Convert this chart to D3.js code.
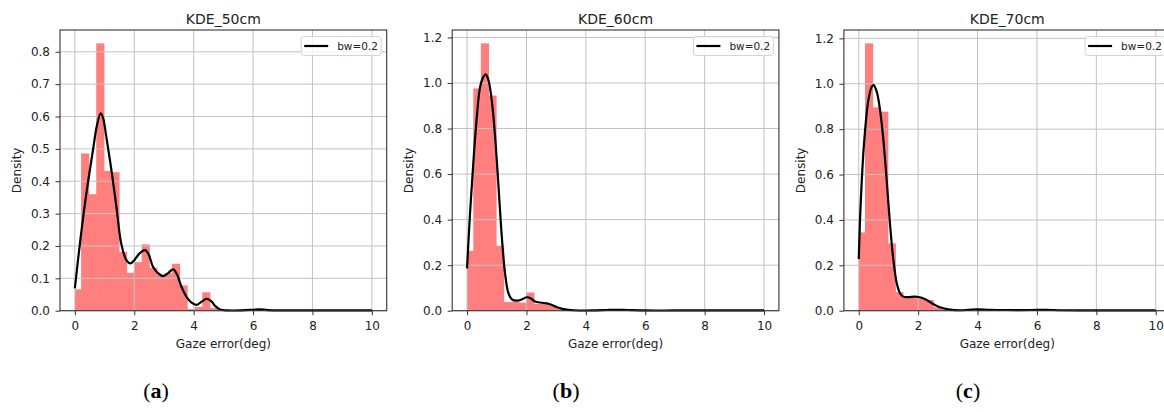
<!DOCTYPE html>
<html>
<head>
<meta charset="utf-8">
<script src="https://cdn.jsdelivr.net/npm/d3@7"></script>
<style>
  body { margin: 0; background: #fff; }
  svg { display: block; }
  text { font-family: "DejaVu Sans", "Noto Sans", sans-serif; }
</style>
</head>
<body>
<svg id="chart" width="1164" height="412"></svg>
<script>
// ---- data ----
const titles = ["KDE_50cm", "KDE_60cm", "KDE_70cm"];
const tags = ["a", "b", "c"];
const legendLabel = "bw=0.2";
const xLabel = "Gaze error(deg)";
const yLabel = "Density";

const xTicks = [0, 2, 4, 6, 8, 10];
const yTicks50 = [0, 0.1, 0.2, 0.3, 0.4, 0.5, 0.6, 0.7, 0.8];
const yTicks60 = [0, 0.2, 0.4, 0.6, 0.8, 1.0, 1.2];
const yTicks70 = [0, 0.2, 0.4, 0.6, 0.8, 1.0, 1.2];

// histogram bins (shared): first edge, bin width
const binStart = -0.045;
const binWidth = 0.255;

// histogram densities per bin
const hist50 = [0.066, 0.486, 0.36, 0.826, 0.432, 0.428, 0.182, 0.117, 0.15, 0.205,
                0.133, 0.11, 0.115, 0.145, 0.078, 0.005, 0.012, 0.057, 0.008, 0,
                0, 0, 0, 0.004, 0.004];
const hist60 = [0.263, 0.976, 1.174, 0.945, 0.285, 0.038, 0.04, 0.036, 0.08, 0.03,
                0.03, 0.022, 0.01, 0.004, 0.002, 0, 0, 0, 0, 0.004, 0.004];
const hist70 = [0.345, 1.178, 0.896, 0.877, 0.297, 0.082, 0.059, 0.058, 0.055, 0.047,
                0.015, 0.008, 0.004, 0.002, 0, 0.006, 0.006, 0, 0, 0,
                0, 0, 0, 0.004, 0.004];

// kernel density estimates, [x, density]
const kde50 = [[0,0.069],[0.2,0.23],[0.4,0.37],[0.6,0.49],[0.75,0.575],
  [0.87,0.61],[0.95,0.596],[1.06,0.537],[1.23,0.435],[1.4,0.321],[1.56,0.208],[1.73,0.157],
  [1.87,0.146],[2.01,0.157],[2.18,0.177],[2.36,0.187],[2.48,0.175],[2.63,0.136],[2.8,0.116],
  [2.97,0.107],[3.14,0.116],[3.31,0.128],[3.43,0.114],[3.59,0.074],[3.76,0.043],[3.93,0.025],
  [4.1,0.018],[4.27,0.028],[4.44,0.037],[4.61,0.028],[4.72,0.015],[4.89,0.004],[5.12,0.001],
  [5.6,0.001],[6.0,0.003],[6.2,0.004],[6.5,0.002],[7,0.001],[8,0.001],[9,0.001],[10,0.001]];
const kde60 = [[0,0.186],[0.1,0.428],[0.21,0.647],[0.33,0.852],[0.44,0.983],[0.55,1.027],
  [0.63,1.038],[0.72,1.013],[0.83,0.925],[0.945,0.764],[1.06,0.544],[1.17,0.325],[1.28,0.164],
  [1.395,0.076],[1.51,0.05],[1.68,0.044],[1.85,0.05],[2.01,0.059],[2.15,0.054],[2.29,0.04],
  [2.52,0.035],[2.69,0.032],[2.86,0.025],[3.03,0.015],[3.25,0.007],[3.6,0.002],[4.2,0.001],
  [4.7,0.003],[5.0,0.004],[5.4,0.003],[6,0.001],[7,0.001],[8,0.001],[9,0.001],[10,0.001]];
const kde70 = [[0,0.228],[0.066,0.473],[0.178,0.737],[0.324,0.928],[0.437,0.987],[0.5,0.994],
  [0.605,0.965],[0.717,0.884],[0.83,0.752],[0.94,0.576],[1.05,0.385],[1.166,0.223],[1.28,0.121],
  [1.39,0.077],[1.5,0.062],[1.67,0.06],[1.9,0.062],[2.12,0.057],[2.29,0.047],[2.46,0.033],
  [2.63,0.021],[2.85,0.011],[3.07,0.005],[3.4,0.002],[3.7,0.004],[4.0,0.006],[4.4,0.004],
  [5,0.003],[5.8,0.003],[6.3,0.004],[6.8,0.002],[7.5,0.001],[8.5,0.001],[10,0.001]];

// ---- layout ----
const svg = d3.select("#chart");
const plotTop = 30, plotBottom = 310.7, plotW = 326.7;
const lefts = [60, 452.2, 843.9];
const tagCenters = [156, 566, 968];

const panels = [
  { title: titles[0], hist: hist50, kde: kde50, yTicks: yTicks50 },
  { title: titles[1], hist: hist60, kde: kde60, yTicks: yTicks60 },
  { title: titles[2], hist: hist70, kde: kde70, yTicks: yTicks70 }
];

panels.forEach((p, i) => {
  const x0 = lefts[i], x1 = x0 + plotW;
  const x = d3.scaleLinear().domain([-0.5, 10.5]).range([x0, x1]);
  const y = d3.scaleLinear().domain([0, d3.max(p.hist) * 1.05]).range([plotBottom, plotTop]);
  const g = svg.append("g");

  // histogram bars (slightly widened so neighbouring bars meet without seams)
  g.append("g").selectAll("rect")
    .data(p.hist.map((v, k) => ({ v, lo: Math.max(0, binStart + k * binWidth), hi: binStart + (k + 1) * binWidth })))
    .join("rect")
    .attr("x", d => x(d.lo))
    .attr("width", d => x(d.hi) - x(d.lo) + 0.6)
    .attr("y", d => y(d.v))
    .attr("height", d => y(0) - y(d.v))
    .attr("fill", "#ff7f7f");

  // grid
  const grid = g.append("g").attr("stroke", "#c2c2c2").attr("stroke-width", 1);
  grid.selectAll(".gx").data(xTicks).join("line")
    .attr("x1", d => x(d)).attr("x2", d => x(d))
    .attr("y1", plotTop).attr("y2", plotBottom);
  grid.selectAll(".gy").data(p.yTicks).join("line")
    .attr("x1", x0).attr("x2", x1)
    .attr("y1", d => y(d)).attr("y2", d => y(d));

  // KDE curve
  const line = d3.line().x(d => x(d[0])).y(d => y(d[1])).curve(d3.curveCatmullRom.alpha(0.5));
  g.append("path").datum(p.kde)
    .attr("d", line)
    .attr("fill", "none")
    .attr("stroke", "#000")
    .attr("stroke-width", 2.2)
    .attr("stroke-linejoin", "round");

  // frame
  g.append("rect")
    .attr("x", x0).attr("y", plotTop)
    .attr("width", plotW).attr("height", plotBottom - plotTop)
    .attr("fill", "none").attr("stroke", "#333").attr("stroke-width", 1.1);

  // axes
  const ax = g.append("g").attr("transform", `translate(0,${plotBottom})`)
    .call(d3.axisBottom(x).tickValues(xTicks).tickFormat(d3.format("d")).tickSize(4.5).tickPadding(6.5));
  const ay = g.append("g").attr("transform", `translate(${x0},0)`)
    .call(d3.axisLeft(y).tickValues(p.yTicks).tickFormat(d3.format(".1f")).tickSize(4.5).tickPadding(5.5));
  [ax, ay].forEach(a => {
    a.select(".domain").remove();
    a.selectAll("line").attr("stroke", "#333");
    a.selectAll("text").attr("font-size", 12).attr("fill", "#222")
      .attr("font-family", "\"DejaVu Sans\", sans-serif");
  });

  // title and axis labels
  g.append("text").attr("x", (x0 + x1) / 2).attr("y", 24)
    .attr("text-anchor", "middle").attr("font-size", 14).attr("fill", "#222").text(p.title);
  g.append("text").attr("x", (x0 + x1) / 2).attr("y", 347.5)
    .attr("text-anchor", "middle").attr("font-size", 12).attr("fill", "#222").text(xLabel);
  g.append("text")
    .attr("transform", `translate(${x0 - 39},${(plotTop + plotBottom) / 2}) rotate(-90)`)
    .attr("text-anchor", "middle").attr("font-size", 12).attr("fill", "#222").text(yLabel);

  // legend
  const lw = 80, lh = 19;
  const lx = x1 - 5.5 - lw, ly = 36.5;
  const lg = g.append("g");
  lg.append("rect").attr("x", lx).attr("y", ly).attr("width", lw).attr("height", lh)
    .attr("rx", 2.5).attr("fill", "#fff").attr("fill-opacity", 0.8)
    .attr("stroke", "#d4d4d4").attr("stroke-width", 1);
  lg.append("line").attr("x1", lx + 3).attr("x2", lx + 27)
    .attr("y1", ly + lh / 2).attr("y2", ly + lh / 2)
    .attr("stroke", "#000").attr("stroke-width", 2.2);
  lg.append("text").attr("x", lx + 36).attr("y", ly + lh / 2 + 3.8)
    .attr("font-size", 10.5).attr("fill", "#222").text(legendLabel);

  // sub-figure tag
  const t = svg.append("text").attr("x", tagCenters[i]).attr("y", 398)
    .attr("text-anchor", "middle").attr("font-size", 22).attr("fill", "#000")
    .style("font-family", "\"Liberation Serif\", \"DejaVu Serif\", serif");
  t.append("tspan").text("(");
  t.append("tspan").attr("font-weight", "bold").text(tags[i]);
  t.append("tspan").text(")");
});
</script>
</body>
</html>
